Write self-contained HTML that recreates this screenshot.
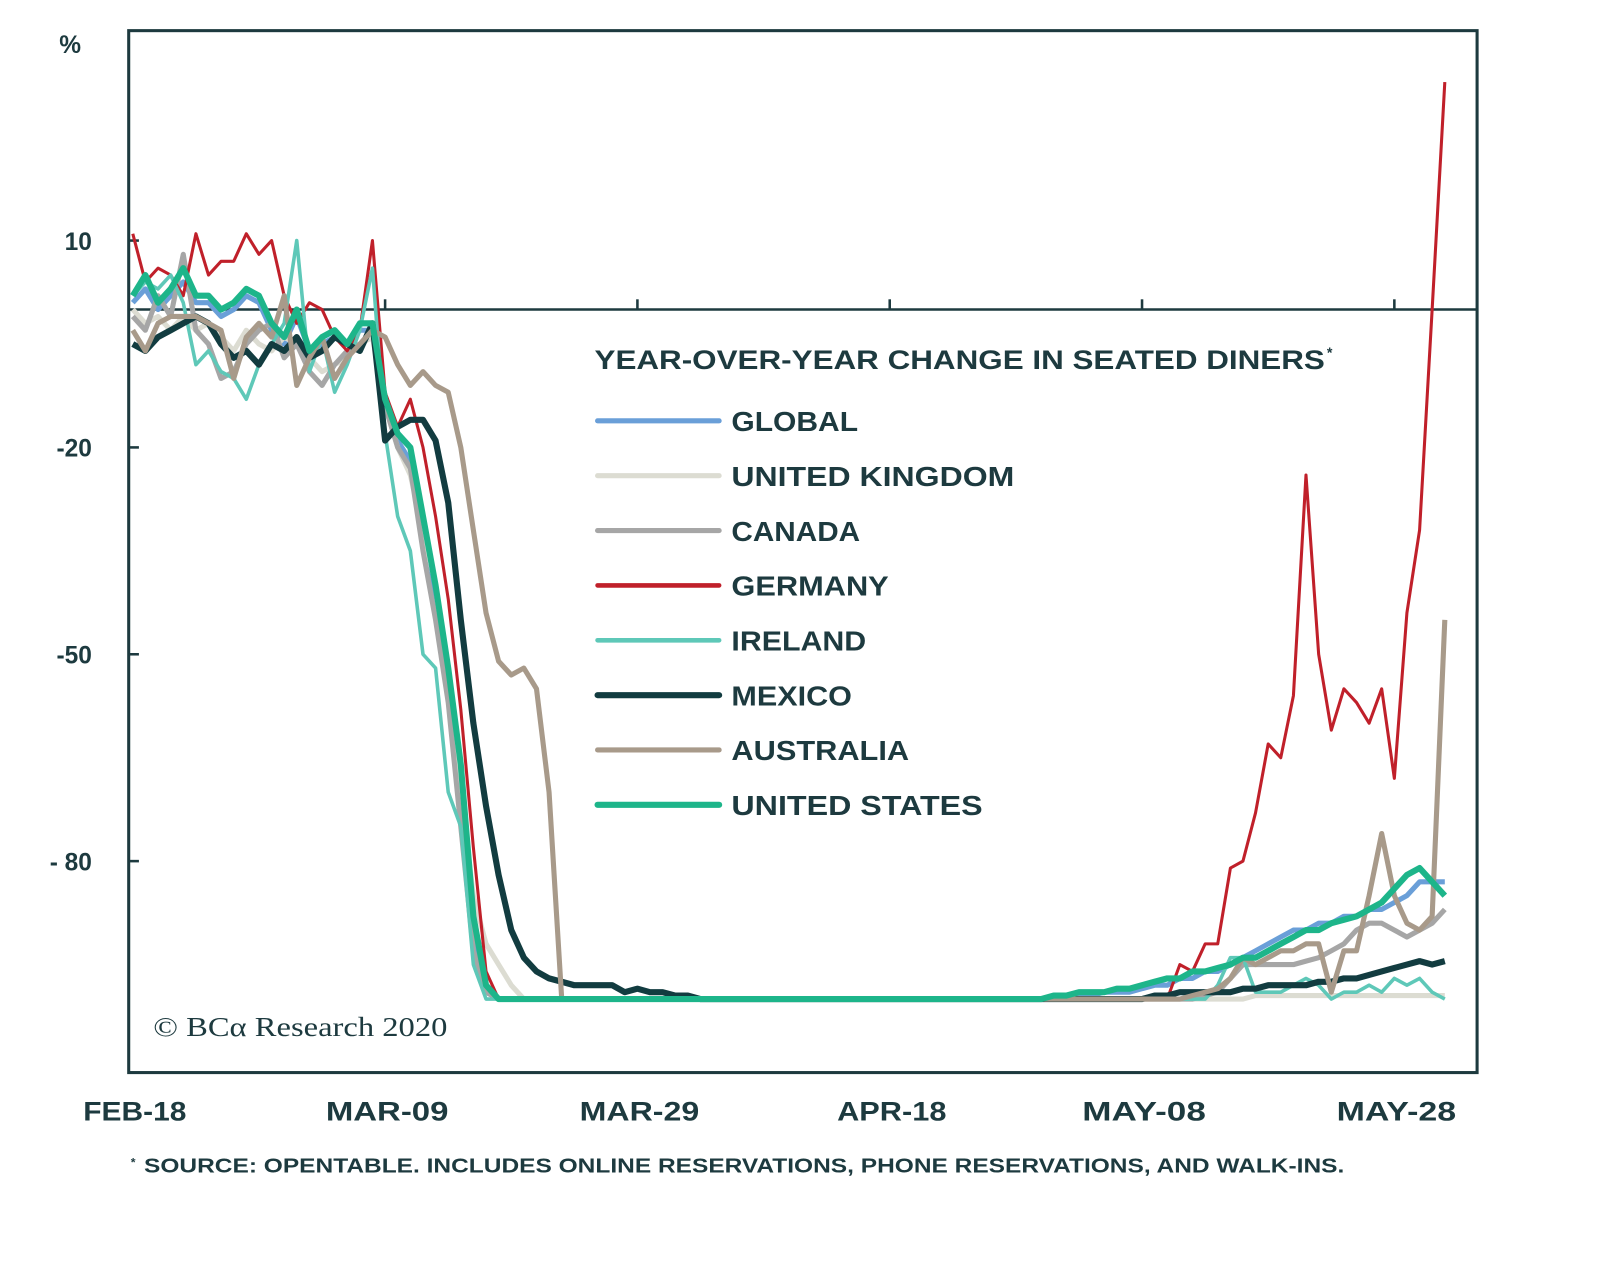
<!DOCTYPE html>
<html><head><meta charset="utf-8"><style>
html,body{margin:0;padding:0;background:#fff;}
svg{display:block;}
text{font-family:"Liberation Sans",sans-serif;fill:#1d3a3f;}
</style></head><body>
<svg id="chart" width="1600" height="1274" viewBox="0 0 1600 1274" xmlns="http://www.w3.org/2000/svg">
<g transform="scale(1.0215)">
<rect x="126" y="30" width="1320" height="1020" fill="none" stroke="#1d3a3f" stroke-width="3"/>
<line x1="126" y1="303" x2="1446" y2="303" stroke="#1d3a3f" stroke-width="2.5"/>
<g id="ticks"></g>
<g id="series"></g>
<text x="58" y="52" font-size="24" font-weight="bold">%</text>
<text x="582" y="361" font-size="26" font-weight="bold" textLength="715" lengthAdjust="spacingAndGlyphs">YEAR-OVER-YEAR  CHANGE IN SEATED DINERS</text>
<text x="1299" y="350" font-size="14" font-weight="bold">*</text>
<g id="legend"></g>
<text x="150" y="1014" style="font-family:'Liberation Serif',serif;" font-size="27" textLength="288" lengthAdjust="spacingAndGlyphs">© BCα Research 2020</text>
<text x="128" y="1142" font-size="12" font-weight="bold">*</text>
<text x="141" y="1148" font-size="20" font-weight="bold" textLength="1175" lengthAdjust="spacingAndGlyphs">SOURCE: OPENTABLE. INCLUDES ONLINE RESERVATIONS, PHONE RESERVATIONS, AND WALK-INS.</text>
</g>
</svg>
<script>
const yTicks=[10,-20,-50,-80];
const yTickLabels=["10","-20","-50","- 80"];
const xTickDays=[0,20,40,60,80,100];
const xTickLabels=["FEB-18","MAR-09","MAR-29","APR-18","MAY-08","MAY-28"];
const seriesNames=["GLOBAL","UNITED KINGDOM","CANADA","GERMANY","IRELAND","MEXICO","AUSTRALIA","UNITED STATES"];
const F=n=>Array(n).fill(-100);
const globalVals=[1,3,0,2,4,1,1,-1,0,2,1,-3,-5,-1,-6,-5,-4,-5,-3,-3,-14,-19,-22,-32,-42,-55,-70,-90,-99,-100,-100,-100,-100,-100,-100].concat(F(35),[-100,-100,-100,-100,-99.5,-99.5,-99.5,-99,-99,-99,-98.5,-98,-98,-97,-97,-96,-96,-95,-94,-93,-92,-91,-90,-90,-89,-89,-88,-88,-87,-87,-86,-85,-83,-83,-83]);
const ukVals=[0,-2,-1,-3,-1,-3,-2,-4,-6,-3,-5,-6,-4,-5,-7,-9,-8,-7,-5,-4,-14,-20,-24,-32,-40,-55,-70,-85,-92,-95,-98,-100,-100,-100,-100].concat(F(54),[-99.5,-99.5,-99.5,-99.5,-99.5,-99.5,-99.5,-99.5,-99.5,-99.5,-99.5,-99.5,-99.5,-99.5,-99.5,-99.5]);
const canadaVals=[-1,-3,2,-1,8,-3,-5,-10,-9,-5,-3,-2,-7,-5,-9,-11,-8,-6,-5,-3,-14,-20,-23,-35,-45,-57,-75,-93,-99,-100,-100,-100,-100,-100,-100].concat(F(50),[-99.5,-99,-97,-95,-95,-95,-95,-95,-94.5,-94,-93,-92,-90,-89,-89,-90,-91,-90,-89,-87]);
const germanyVals=[11,4,6,5,2,11,5,7,7,11,8,10,2,-2,1,0,-4,-6,-3,10,-12,-17,-13,-20,-30,-42,-58,-78,-96,-100,-100,-100,-100,-100,-100].concat(F(48),[-95,-96,-92,-92,-81,-80,-73,-63,-65,-56,-24,-50,-61,-55,-57,-60,-55,-68,-44,-32,0,33]);
const irelandVals=[2,4,3,5,1,-8,-6,-9,-10,-13,-8,-5,-2,10,-9,-4,-12,-8,-3,6,-18,-30,-35,-50,-52,-70,-75,-95,-100,-100,-100,-100,-100,-100,-100].concat(F(51),[-98,-94,-94,-99,-99,-99,-98,-97,-98,-100,-99,-99,-98,-99,-97,-98,-97,-99,-100]);
const mexicoVals=[-5,-6,-4,-3,-2,-1,-2,-5,-7,-6,-8,-5,-6,-4,-7,-6,-4,-5,-6,-2,-19,-17,-16,-16,-19,-28,-45,-60,-72,-82,-90,-94,-96,-97,-97.5,-98,-98,-98,-98,-99,-98.5,-99,-99,-99.5,-99.5].concat(F(36),[-99.5,-99.5,-99,-99,-99,-99,-99,-98.5,-98.5,-98,-98,-98,-98,-97.5,-97.5,-97,-97,-96.5,-96,-95.5,-95,-94.5,-95,-94.5]);
const australiaVals=[-3,-6,-2,-1,-1,-1,-2,-3,-10,-4,-2,-4,2,-11,-7,-4,-10,-7,-5,-3,-4,-8,-11,-9,-11,-12,-20,-32,-44,-51,-53,-52,-55,-70,-100].concat(F(49),[-99.5,-99,-98.5,-97,-94,-95,-94,-93,-93,-92,-92,-99,-93,-93,-85,-76,-85,-89,-90,-88,-45]);
const usVals=[2,5,1,3,6,2,2,0,1,3,2,-2,-4,0,-6,-4,-3,-5,-2,-2,-13,-18,-20,-30,-40,-52,-66,-88,-98,-100,-100,-100,-100,-100,-100].concat(F(35),[-100,-100,-100,-99.5,-99.5,-99,-99,-99,-98.5,-98.5,-98,-97.5,-97,-97,-96,-96,-95.5,-95,-94,-94,-93,-92,-91,-90,-90,-89,-88.5,-88,-87,-86,-84,-82,-81,-83,-85]);
const seriesValues=[globalVals,ukVals,canadaVals,germanyVals,irelandVals,mexicoVals,australiaVals,usVals];
const colors=["#6a9fd8","#dcdcd2","#a6a6a6","#c0202a","#5ec8b8","#123c40","#a89a8a","#1db58a"];
const widths=[5,5,5,3,3.5,6,5,6];
const slugs=["global","united-kingdom","canada","germany","ireland","mexico","australia","united-states"];
const legendLens=[124,277,126,154,132,118,174,246];
const xLabelLens=[101,120,117,107,121,117];
const NS="http://www.w3.org/2000/svg";
const xS=d=>130+12.35*d;
const yS=v=>303-6.75*v;
const tg=document.getElementById('ticks');
yTicks.forEach((t,i)=>{
  const l=document.createElementNS(NS,'line');
  l.setAttribute('x1',126);l.setAttribute('x2',136);l.setAttribute('y1',yS(t));l.setAttribute('y2',yS(t));
  l.setAttribute('stroke','#1d3a3f');l.setAttribute('stroke-width',2.5);
  
  
  tg.appendChild(l);
  const tx=document.createElementNS(NS,'text');
  tx.setAttribute('x',90);tx.setAttribute('y',yS(t)+9);tx.setAttribute('text-anchor','end');
  tx.setAttribute('font-size','24');tx.setAttribute('font-weight','bold');
  tx.textContent=yTickLabels[i];
  
  
  tg.appendChild(tx);
});
xTickDays.forEach((d,i)=>{
  if(d>0){
    const l=document.createElementNS(NS,'line');
    l.setAttribute('x1',xS(d));l.setAttribute('x2',xS(d));l.setAttribute('y1',293);l.setAttribute('y2',303);
    l.setAttribute('stroke','#1d3a3f');l.setAttribute('stroke-width',2.5);
    
    
    tg.appendChild(l);
  }
  const tx=document.createElementNS(NS,'text');
  tx.setAttribute('x',xS(d)+2);tx.setAttribute('y',1097);tx.setAttribute('text-anchor','middle');
  tx.setAttribute('font-size','26');tx.setAttribute('font-weight','bold');
  tx.setAttribute('textLength',xLabelLens[i]);tx.setAttribute('lengthAdjust','spacingAndGlyphs');
  tx.textContent=xTickLabels[i];
  
  
  tg.appendChild(tx);
});
const sg=document.getElementById('series');
seriesValues.forEach((vals,i)=>{
  const p=document.createElementNS(NS,'polyline');
  p.setAttribute('points',vals.map((v,d)=>xS(d).toFixed(1)+','+yS(v).toFixed(1)).join(' '));
  p.setAttribute('fill','none');p.setAttribute('stroke',colors[i]);p.setAttribute('stroke-width',widths[i]);
  p.setAttribute('stroke-linejoin','round');
  
  
  sg.appendChild(p);
});
const lg=document.getElementById('legend');
seriesNames.forEach((n,i)=>{
  const y=412+53.7*i;
  const l=document.createElementNS(NS,'line');
  l.setAttribute('x1',585);l.setAttribute('x2',704);l.setAttribute('y1',y);l.setAttribute('y2',y);
  l.setAttribute('stroke',colors[i]);l.setAttribute('stroke-width',Math.max(widths[i],4.5));l.setAttribute('stroke-linecap','round');
  
  
  lg.appendChild(l);
  const tx=document.createElementNS(NS,'text');
  tx.setAttribute('x',716);tx.setAttribute('y',y+10);tx.setAttribute('font-size','27');tx.setAttribute('font-weight','bold');
  tx.setAttribute('textLength',legendLens[i]);tx.setAttribute('lengthAdjust','spacingAndGlyphs');
  tx.textContent=n;
  
  
  lg.appendChild(tx);
});
</script>
</body></html>
